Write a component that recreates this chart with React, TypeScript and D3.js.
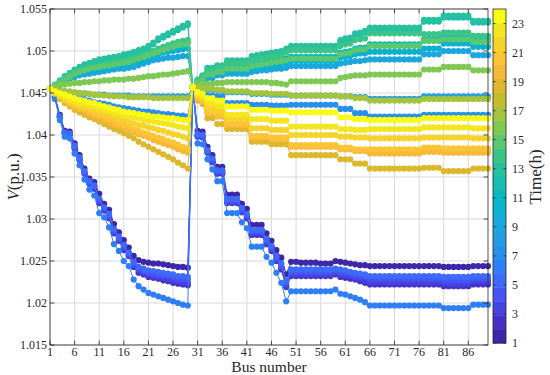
import React from "react";
import * as d3 from "d3";

// bus numbers 1..90 (feeder A: 1-29, feeder B: 30-90)
const buses = d3.range(1, 91);
const xTicks = [1, 6, 11, 16, 21, 26, 31, 36, 41, 46, 51, 56, 61, 66, 71, 76, 81, 86];
const yTicks = [1.015, 1.02, 1.025, 1.03, 1.035, 1.04, 1.045, 1.05, 1.055];
const hourTicks = [1, 3, 5, 7, 9, 11, 13, 15, 17, 19, 21, 23];

// parula-like colours, one per hour
const hourColors = [
  "#3e26a8", "#4531c8", "#4742e2", "#4655f3", "#3e6afc", "#2e7ff7",
  "#288fec", "#229de4", "#1ba7dc", "#0cb0d1", "#05b8c1", "#16bdb0",
  "#26c19e", "#3ac588", "#5ac86e", "#7fc854", "#a3c43c", "#c3bd2c",
  "#ddb82c", "#f6b83a", "#fec434", "#f6d328", "#f4e61e", "#f9fb14",
];

// voltages (p.u.) per hour, buses 1..90
const v01 = [
  1.0455, 1.0446, 1.0424, 1.0405, 1.0404, 1.0390, 1.0376, 1.0360, 1.0348, 1.0344,
  1.0330, 1.0318, 1.0311, 1.0294, 1.0284, 1.0275, 1.0266, 1.0256, 1.0251, 1.0249,
  1.0248, 1.0247, 1.0247, 1.0246, 1.0245, 1.0244, 1.0243, 1.0243, 1.0242,
  1.0457, 1.0405, 1.0404, 1.0386, 1.0376, 1.0362, 1.0362, 1.0329, 1.0329, 1.0329,
  1.0318, 1.0312, 1.0293, 1.0293, 1.0293, 1.0283, 1.0274, 1.0263, 1.0254, 1.0234,
  1.0249, 1.0249, 1.0248, 1.0248, 1.0248, 1.0248, 1.0247, 1.0247, 1.0247, 1.0250,
  1.0249, 1.0248, 1.0247, 1.0246, 1.0245, 1.0245, 1.0244, 1.0244, 1.0244, 1.0244,
  1.0244, 1.0244, 1.0244, 1.0244, 1.0244, 1.0244, 1.0244, 1.0244, 1.0244, 1.0244,
  1.0244, 1.0243, 1.0243, 1.0243, 1.0243, 1.0243, 1.0243, 1.0244, 1.0244, 1.0244,
  1.0244,
];
const v02 = [
  1.0455, 1.0444, 1.0421, 1.0402, 1.0400, 1.0384, 1.0370, 1.0354, 1.0342, 1.0336,
  1.0319, 1.0310, 1.0301, 1.0283, 1.0274, 1.0263, 1.0256, 1.0243, 1.0236, 1.0234,
  1.0231, 1.0230, 1.0229, 1.0227, 1.0226, 1.0224, 1.0223, 1.0222, 1.0221,
  1.0457, 1.0398, 1.0397, 1.0379, 1.0368, 1.0354, 1.0354, 1.0319, 1.0319, 1.0319,
  1.0308, 1.0301, 1.0281, 1.0281, 1.0281, 1.0270, 1.0262, 1.0250, 1.0240, 1.0219,
  1.0232, 1.0232, 1.0232, 1.0232, 1.0232, 1.0232, 1.0232, 1.0232, 1.0232, 1.0234,
  1.0231, 1.0230, 1.0229, 1.0228, 1.0226, 1.0224, 1.0222, 1.0222, 1.0222, 1.0222,
  1.0222, 1.0222, 1.0222, 1.0222, 1.0222, 1.0222, 1.0222, 1.0222, 1.0222, 1.0222,
  1.0222, 1.0220, 1.0220, 1.0220, 1.0220, 1.0220, 1.0220, 1.0222, 1.0222, 1.0222,
  1.0222,
];
const v03 = [
  1.0455, 1.0445, 1.0422, 1.0402, 1.0401, 1.0385, 1.0371, 1.0355, 1.0343, 1.0338,
  1.0321, 1.0312, 1.0303, 1.0284, 1.0275, 1.0265, 1.0257, 1.0245, 1.0239, 1.0236,
  1.0234, 1.0232, 1.0231, 1.0230, 1.0229, 1.0227, 1.0226, 1.0225, 1.0224,
  1.0457, 1.0399, 1.0398, 1.0380, 1.0369, 1.0355, 1.0355, 1.0320, 1.0320, 1.0320,
  1.0309, 1.0303, 1.0283, 1.0283, 1.0283, 1.0272, 1.0264, 1.0252, 1.0242, 1.0221,
  1.0234, 1.0234, 1.0234, 1.0234, 1.0234, 1.0234, 1.0234, 1.0234, 1.0234, 1.0236,
  1.0234, 1.0233, 1.0232, 1.0230, 1.0229, 1.0227, 1.0225, 1.0225, 1.0225, 1.0225,
  1.0225, 1.0225, 1.0225, 1.0225, 1.0225, 1.0225, 1.0225, 1.0225, 1.0225, 1.0225,
  1.0225, 1.0223, 1.0223, 1.0223, 1.0223, 1.0223, 1.0223, 1.0226, 1.0226, 1.0226,
  1.0226,
];
const v04 = [
  1.0455, 1.0445, 1.0422, 1.0403, 1.0401, 1.0386, 1.0372, 1.0356, 1.0344, 1.0339,
  1.0323, 1.0313, 1.0304, 1.0286, 1.0277, 1.0267, 1.0259, 1.0247, 1.0241, 1.0238,
  1.0236, 1.0235, 1.0234, 1.0233, 1.0232, 1.0231, 1.0229, 1.0229, 1.0228,
  1.0457, 1.0400, 1.0399, 1.0381, 1.0371, 1.0357, 1.0357, 1.0322, 1.0322, 1.0322,
  1.0311, 1.0305, 1.0285, 1.0285, 1.0285, 1.0274, 1.0266, 1.0254, 1.0244, 1.0224,
  1.0237, 1.0237, 1.0237, 1.0237, 1.0237, 1.0237, 1.0237, 1.0237, 1.0237, 1.0239,
  1.0237, 1.0236, 1.0235, 1.0233, 1.0232, 1.0231, 1.0229, 1.0229, 1.0229, 1.0229,
  1.0229, 1.0229, 1.0229, 1.0229, 1.0229, 1.0229, 1.0229, 1.0229, 1.0229, 1.0229,
  1.0229, 1.0227, 1.0227, 1.0227, 1.0227, 1.0227, 1.0227, 1.0229, 1.0229, 1.0229,
  1.0229,
];
const v05 = [
  1.0455, 1.0445, 1.0422, 1.0403, 1.0402, 1.0387, 1.0373, 1.0357, 1.0345, 1.0340,
  1.0324, 1.0314, 1.0306, 1.0288, 1.0279, 1.0269, 1.0260, 1.0249, 1.0243, 1.0241,
  1.0239, 1.0238, 1.0237, 1.0236, 1.0235, 1.0234, 1.0232, 1.0232, 1.0231,
  1.0457, 1.0401, 1.0400, 1.0382, 1.0372, 1.0358, 1.0358, 1.0324, 1.0324, 1.0324,
  1.0313, 1.0306, 1.0287, 1.0287, 1.0287, 1.0276, 1.0268, 1.0256, 1.0247, 1.0226,
  1.0240, 1.0240, 1.0240, 1.0240, 1.0240, 1.0240, 1.0240, 1.0240, 1.0240, 1.0241,
  1.0240, 1.0239, 1.0237, 1.0236, 1.0235, 1.0234, 1.0232, 1.0232, 1.0232, 1.0232,
  1.0232, 1.0232, 1.0232, 1.0232, 1.0232, 1.0232, 1.0232, 1.0232, 1.0232, 1.0232,
  1.0232, 1.0231, 1.0231, 1.0231, 1.0231, 1.0231, 1.0231, 1.0232, 1.0232, 1.0232,
  1.0232,
];
const v06 = [
  1.0455, 1.0443, 1.0418, 1.0398, 1.0396, 1.0378, 1.0364, 1.0347, 1.0335, 1.0328,
  1.0307, 1.0302, 1.0290, 1.0270, 1.0262, 1.0250, 1.0244, 1.0228, 1.0220, 1.0216,
  1.0212, 1.0210, 1.0208, 1.0206, 1.0204, 1.0202, 1.0200, 1.0198, 1.0197,
  1.0457, 1.0390, 1.0389, 1.0371, 1.0359, 1.0345, 1.0345, 1.0307, 1.0307, 1.0307,
  1.0296, 1.0289, 1.0267, 1.0267, 1.0267, 1.0255, 1.0248, 1.0236, 1.0224, 1.0202,
  1.0214, 1.0214, 1.0214, 1.0214, 1.0214, 1.0214, 1.0214, 1.0214, 1.0214, 1.0216,
  1.0211, 1.0210, 1.0208, 1.0206, 1.0204, 1.0201, 1.0197, 1.0197, 1.0197, 1.0197,
  1.0197, 1.0197, 1.0197, 1.0197, 1.0197, 1.0197, 1.0197, 1.0197, 1.0197, 1.0197,
  1.0197, 1.0194, 1.0194, 1.0194, 1.0194, 1.0194, 1.0194, 1.0198, 1.0198, 1.0198,
  1.0198,
];
const v07 = [
  1.0455, 1.0453, 1.0451, 1.0449, 1.0447, 1.0446, 1.0444, 1.0442, 1.0441, 1.0439,
  1.0438, 1.0437, 1.0436, 1.0434, 1.0433, 1.0432, 1.0431, 1.0430, 1.0429, 1.0428,
  1.0428, 1.0427, 1.0426, 1.0425, 1.0425, 1.0424, 1.0423, 1.0423, 1.0422,
  1.0457, 1.0452, 1.0450, 1.0447, 1.0447, 1.0446, 1.0446, 1.0438, 1.0438, 1.0438,
  1.0438, 1.0438, 1.0436, 1.0436, 1.0436, 1.0436, 1.0435, 1.0435, 1.0435, 1.0435,
  1.0436, 1.0436, 1.0436, 1.0436, 1.0436, 1.0436, 1.0436, 1.0436, 1.0436, 1.0436,
  1.0431, 1.0431, 1.0431, 1.0426, 1.0426, 1.0426, 1.0422, 1.0422, 1.0422, 1.0422,
  1.0422, 1.0422, 1.0422, 1.0422, 1.0422, 1.0422, 1.0422, 1.0424, 1.0424, 1.0424,
  1.0424, 1.0424, 1.0424, 1.0424, 1.0424, 1.0424, 1.0424, 1.0424, 1.0424, 1.0424,
  1.0424,
];
const v08 = [
  1.0455, 1.0454, 1.0453, 1.0452, 1.0451, 1.0450, 1.0450, 1.0449, 1.0449, 1.0448,
  1.0448, 1.0448, 1.0447, 1.0447, 1.0447, 1.0447, 1.0447, 1.0446, 1.0446, 1.0446,
  1.0446, 1.0446, 1.0446, 1.0446, 1.0446, 1.0446, 1.0446, 1.0446, 1.0446,
  1.0457, 1.0456, 1.0455, 1.0454, 1.0454, 1.0453, 1.0453, 1.0451, 1.0451, 1.0451,
  1.0451, 1.0451, 1.0449, 1.0449, 1.0449, 1.0449, 1.0448, 1.0448, 1.0448, 1.0448,
  1.0447, 1.0447, 1.0447, 1.0447, 1.0447, 1.0447, 1.0447, 1.0447, 1.0447, 1.0447,
  1.0446, 1.0446, 1.0446, 1.0445, 1.0445, 1.0445, 1.0443, 1.0443, 1.0443, 1.0443,
  1.0443, 1.0443, 1.0443, 1.0443, 1.0443, 1.0443, 1.0443, 1.0446, 1.0446, 1.0446,
  1.0446, 1.0446, 1.0446, 1.0446, 1.0446, 1.0446, 1.0446, 1.0446, 1.0446, 1.0446,
  1.0446,
];
const v09 = [
  1.0455, 1.0458, 1.0461, 1.0464, 1.0467, 1.0469, 1.0471, 1.0472, 1.0473, 1.0474,
  1.0475, 1.0476, 1.0477, 1.0478, 1.0479, 1.0479, 1.0480, 1.0481, 1.0483, 1.0485,
  1.0487, 1.0489, 1.0490, 1.0491, 1.0492, 1.0492, 1.0493, 1.0494, 1.0494,
  1.0457, 1.0461, 1.0464, 1.0468, 1.0468, 1.0471, 1.0471, 1.0473, 1.0473, 1.0473,
  1.0473, 1.0473, 1.0475, 1.0476, 1.0477, 1.0477, 1.0478, 1.0479, 1.0479, 1.0480,
  1.0482, 1.0482, 1.0482, 1.0482, 1.0482, 1.0482, 1.0482, 1.0482, 1.0482, 1.0482,
  1.0485, 1.0486, 1.0487, 1.0488, 1.0488, 1.0489, 1.0490, 1.0490, 1.0490, 1.0490,
  1.0490, 1.0490, 1.0490, 1.0490, 1.0490, 1.0490, 1.0490, 1.0496, 1.0496, 1.0496,
  1.0496, 1.0500, 1.0500, 1.0500, 1.0500, 1.0500, 1.0500, 1.0495, 1.0495, 1.0495,
  1.0495,
];
const v10 = [
  1.0455, 1.0458, 1.0462, 1.0465, 1.0468, 1.0471, 1.0473, 1.0475, 1.0477, 1.0478,
  1.0479, 1.0480, 1.0481, 1.0482, 1.0483, 1.0483, 1.0484, 1.0486, 1.0487, 1.0489,
  1.0491, 1.0493, 1.0496, 1.0498, 1.0499, 1.0500, 1.0501, 1.0502, 1.0503,
  1.0457, 1.0462, 1.0465, 1.0471, 1.0471, 1.0474, 1.0474, 1.0477, 1.0477, 1.0477,
  1.0477, 1.0477, 1.0479, 1.0480, 1.0481, 1.0482, 1.0483, 1.0484, 1.0485, 1.0486,
  1.0488, 1.0488, 1.0488, 1.0488, 1.0488, 1.0488, 1.0488, 1.0488, 1.0488, 1.0488,
  1.0492, 1.0493, 1.0494, 1.0496, 1.0497, 1.0497, 1.0499, 1.0499, 1.0499, 1.0499,
  1.0499, 1.0499, 1.0499, 1.0499, 1.0499, 1.0499, 1.0499, 1.0503, 1.0503, 1.0503,
  1.0503, 1.0509, 1.0509, 1.0509, 1.0509, 1.0509, 1.0509, 1.0505, 1.0505, 1.0505,
  1.0505,
];
const v11 = [
  1.0455, 1.0459, 1.0463, 1.0467, 1.0470, 1.0474, 1.0476, 1.0478, 1.0480, 1.0481,
  1.0482, 1.0483, 1.0484, 1.0486, 1.0487, 1.0488, 1.0489, 1.0491, 1.0493, 1.0495,
  1.0497, 1.0499, 1.0501, 1.0503, 1.0505, 1.0507, 1.0509, 1.0510, 1.0511,
  1.0457, 1.0463, 1.0467, 1.0474, 1.0474, 1.0477, 1.0477, 1.0481, 1.0481, 1.0481,
  1.0481, 1.0481, 1.0484, 1.0485, 1.0486, 1.0487, 1.0488, 1.0489, 1.0490, 1.0491,
  1.0493, 1.0493, 1.0493, 1.0493, 1.0493, 1.0493, 1.0493, 1.0493, 1.0493, 1.0493,
  1.0498, 1.0499, 1.0500, 1.0503, 1.0504, 1.0504, 1.0508, 1.0508, 1.0508, 1.0508,
  1.0508, 1.0508, 1.0508, 1.0508, 1.0508, 1.0508, 1.0508, 1.0514, 1.0514, 1.0514,
  1.0514, 1.0516, 1.0516, 1.0516, 1.0516, 1.0516, 1.0516, 1.0513, 1.0513, 1.0513,
  1.0513,
];
const v12 = [
  1.0455, 1.0459, 1.0464, 1.0468, 1.0472, 1.0476, 1.0479, 1.0482, 1.0484, 1.0486,
  1.0488, 1.0489, 1.0490, 1.0491, 1.0492, 1.0494, 1.0495, 1.0497, 1.0499, 1.0501,
  1.0504, 1.0508, 1.0513, 1.0516, 1.0519, 1.0522, 1.0525, 1.0528, 1.0531,
  1.0457, 1.0465, 1.0470, 1.0479, 1.0479, 1.0482, 1.0482, 1.0487, 1.0487, 1.0487,
  1.0487, 1.0487, 1.0492, 1.0493, 1.0494, 1.0495, 1.0496, 1.0497, 1.0498, 1.0501,
  1.0504, 1.0504, 1.0504, 1.0504, 1.0504, 1.0504, 1.0504, 1.0504, 1.0504, 1.0504,
  1.0511, 1.0513, 1.0514, 1.0519, 1.0520, 1.0522, 1.0526, 1.0526, 1.0526, 1.0526,
  1.0526, 1.0526, 1.0526, 1.0526, 1.0526, 1.0526, 1.0526, 1.0535, 1.0535, 1.0535,
  1.0535, 1.0540, 1.0540, 1.0540, 1.0540, 1.0540, 1.0540, 1.0534, 1.0534, 1.0534,
  1.0534,
];
const v13 = [
  1.0455, 1.0460, 1.0465, 1.0470, 1.0474, 1.0478, 1.0481, 1.0484, 1.0486, 1.0488,
  1.0490, 1.0491, 1.0492, 1.0493, 1.0494, 1.0496, 1.0497, 1.0499, 1.0501, 1.0503,
  1.0506, 1.0510, 1.0515, 1.0518, 1.0521, 1.0524, 1.0527, 1.0530, 1.0533,
  1.0457, 1.0466, 1.0471, 1.0480, 1.0480, 1.0483, 1.0483, 1.0489, 1.0489, 1.0489,
  1.0489, 1.0489, 1.0494, 1.0495, 1.0496, 1.0497, 1.0498, 1.0499, 1.0500, 1.0503,
  1.0506, 1.0506, 1.0506, 1.0506, 1.0506, 1.0506, 1.0506, 1.0506, 1.0506, 1.0506,
  1.0513, 1.0515, 1.0516, 1.0521, 1.0522, 1.0524, 1.0528, 1.0528, 1.0528, 1.0528,
  1.0528, 1.0528, 1.0528, 1.0528, 1.0528, 1.0528, 1.0528, 1.0537, 1.0537, 1.0537,
  1.0537, 1.0542, 1.0542, 1.0542, 1.0542, 1.0542, 1.0542, 1.0536, 1.0536, 1.0536,
  1.0536,
];
const v14 = [
  1.0455, 1.0459, 1.0463, 1.0467, 1.0471, 1.0475, 1.0477, 1.0479, 1.0481, 1.0482,
  1.0483, 1.0484, 1.0485, 1.0487, 1.0488, 1.0489, 1.0490, 1.0492, 1.0494, 1.0496,
  1.0498, 1.0500, 1.0503, 1.0505, 1.0507, 1.0509, 1.0511, 1.0512, 1.0513,
  1.0457, 1.0465, 1.0469, 1.0477, 1.0477, 1.0480, 1.0480, 1.0486, 1.0486, 1.0486,
  1.0486, 1.0486, 1.0489, 1.0490, 1.0491, 1.0492, 1.0493, 1.0494, 1.0495, 1.0498,
  1.0501, 1.0501, 1.0501, 1.0501, 1.0501, 1.0501, 1.0501, 1.0501, 1.0501, 1.0501,
  1.0506, 1.0508, 1.0509, 1.0513, 1.0514, 1.0515, 1.0521, 1.0521, 1.0521, 1.0521,
  1.0521, 1.0521, 1.0521, 1.0521, 1.0521, 1.0521, 1.0521, 1.0520, 1.0520, 1.0520,
  1.0520, 1.0522, 1.0522, 1.0522, 1.0522, 1.0522, 1.0522, 1.0518, 1.0518, 1.0518,
  1.0518,
];
const v15 = [
  1.0455, 1.0459, 1.0462, 1.0466, 1.0469, 1.0473, 1.0475, 1.0477, 1.0479, 1.0480,
  1.0481, 1.0482, 1.0483, 1.0484, 1.0485, 1.0486, 1.0487, 1.0489, 1.0491, 1.0493,
  1.0495, 1.0497, 1.0499, 1.0501, 1.0503, 1.0505, 1.0507, 1.0508, 1.0509,
  1.0457, 1.0462, 1.0466, 1.0472, 1.0472, 1.0475, 1.0475, 1.0479, 1.0479, 1.0479,
  1.0479, 1.0479, 1.0482, 1.0483, 1.0484, 1.0485, 1.0486, 1.0487, 1.0488, 1.0489,
  1.0491, 1.0491, 1.0491, 1.0491, 1.0491, 1.0491, 1.0491, 1.0491, 1.0491, 1.0491,
  1.0496, 1.0497, 1.0498, 1.0501, 1.0502, 1.0502, 1.0506, 1.0506, 1.0506, 1.0506,
  1.0506, 1.0506, 1.0506, 1.0506, 1.0506, 1.0506, 1.0506, 1.0512, 1.0512, 1.0512,
  1.0512, 1.0514, 1.0514, 1.0514, 1.0514, 1.0514, 1.0514, 1.0511, 1.0511, 1.0511,
  1.0511,
];
const v16 = [
  1.0455, 1.0457, 1.0459, 1.0460, 1.0461, 1.0462, 1.0462, 1.0463, 1.0463, 1.0464,
  1.0464, 1.0465, 1.0465, 1.0466, 1.0466, 1.0466, 1.0467, 1.0467, 1.0468, 1.0469,
  1.0470, 1.0470, 1.0471, 1.0472, 1.0472, 1.0473, 1.0474, 1.0475, 1.0476,
  1.0457, 1.0459, 1.0460, 1.0461, 1.0461, 1.0462, 1.0462, 1.0463, 1.0463, 1.0463,
  1.0463, 1.0463, 1.0463, 1.0463, 1.0463, 1.0463, 1.0462, 1.0462, 1.0461, 1.0460,
  1.0464, 1.0464, 1.0464, 1.0464, 1.0464, 1.0464, 1.0464, 1.0464, 1.0464, 1.0464,
  1.0468, 1.0469, 1.0470, 1.0471, 1.0471, 1.0471, 1.0472, 1.0472, 1.0472, 1.0472,
  1.0472, 1.0472, 1.0472, 1.0472, 1.0472, 1.0472, 1.0472, 1.0478, 1.0478, 1.0478,
  1.0478, 1.0481, 1.0481, 1.0481, 1.0481, 1.0481, 1.0481, 1.0477, 1.0477, 1.0477,
  1.0477,
];
const v17 = [
  1.0455, 1.0454, 1.0453, 1.0452, 1.0452, 1.0451, 1.0450, 1.0450, 1.0449, 1.0448,
  1.0448, 1.0447, 1.0447, 1.0446, 1.0446, 1.0446, 1.0445, 1.0445, 1.0445, 1.0445,
  1.0445, 1.0444, 1.0444, 1.0444, 1.0444, 1.0444, 1.0444, 1.0444, 1.0444,
  1.0457, 1.0456, 1.0455, 1.0455, 1.0455, 1.0454, 1.0454, 1.0452, 1.0452, 1.0452,
  1.0452, 1.0452, 1.0450, 1.0450, 1.0450, 1.0450, 1.0449, 1.0449, 1.0449, 1.0449,
  1.0447, 1.0447, 1.0447, 1.0447, 1.0447, 1.0447, 1.0447, 1.0447, 1.0447, 1.0447,
  1.0446, 1.0446, 1.0446, 1.0444, 1.0444, 1.0444, 1.0441, 1.0441, 1.0441, 1.0441,
  1.0441, 1.0441, 1.0441, 1.0441, 1.0441, 1.0441, 1.0441, 1.0443, 1.0443, 1.0443,
  1.0443, 1.0443, 1.0443, 1.0443, 1.0443, 1.0443, 1.0443, 1.0443, 1.0443, 1.0443,
  1.0443,
];
const v18 = [
  1.0455, 1.0450, 1.0446, 1.0441, 1.0437, 1.0434, 1.0432, 1.0429, 1.0427, 1.0424,
  1.0422, 1.0420, 1.0417, 1.0415, 1.0412, 1.0410, 1.0408, 1.0405, 1.0403, 1.0401,
  1.0399, 1.0396, 1.0394, 1.0392, 1.0390, 1.0388, 1.0386, 1.0383, 1.0381,
  1.0457, 1.0444, 1.0441, 1.0427, 1.0427, 1.0423, 1.0423, 1.0413, 1.0413, 1.0413,
  1.0413, 1.0413, 1.0398, 1.0398, 1.0398, 1.0398, 1.0396, 1.0396, 1.0396, 1.0396,
  1.0387, 1.0387, 1.0387, 1.0387, 1.0387, 1.0387, 1.0387, 1.0387, 1.0387, 1.0387,
  1.0384, 1.0384, 1.0384, 1.0382, 1.0382, 1.0382, 1.0380, 1.0380, 1.0380, 1.0380,
  1.0380, 1.0380, 1.0380, 1.0380, 1.0380, 1.0380, 1.0380, 1.0382, 1.0382, 1.0382,
  1.0382, 1.0381, 1.0381, 1.0381, 1.0381, 1.0381, 1.0381, 1.0381, 1.0381, 1.0381,
  1.0381,
];
const v19 = [
  1.0455, 1.0449, 1.0443, 1.0438, 1.0434, 1.0430, 1.0427, 1.0424, 1.0421, 1.0419,
  1.0416, 1.0413, 1.0410, 1.0407, 1.0405, 1.0402, 1.0399, 1.0396, 1.0392, 1.0389,
  1.0386, 1.0383, 1.0380, 1.0377, 1.0374, 1.0371, 1.0367, 1.0364, 1.0360,
  1.0457, 1.0441, 1.0437, 1.0420, 1.0420, 1.0413, 1.0413, 1.0407, 1.0407, 1.0407,
  1.0407, 1.0407, 1.0392, 1.0392, 1.0392, 1.0392, 1.0389, 1.0389, 1.0389, 1.0389,
  1.0376, 1.0376, 1.0376, 1.0376, 1.0376, 1.0376, 1.0376, 1.0376, 1.0376, 1.0376,
  1.0371, 1.0371, 1.0371, 1.0366, 1.0366, 1.0366, 1.0360, 1.0360, 1.0360, 1.0360,
  1.0360, 1.0360, 1.0360, 1.0360, 1.0360, 1.0360, 1.0360, 1.0361, 1.0361, 1.0361,
  1.0361, 1.0357, 1.0357, 1.0357, 1.0357, 1.0357, 1.0357, 1.0360, 1.0360, 1.0360,
  1.0360,
];
const v20 = [
  1.0455, 1.0450, 1.0445, 1.0441, 1.0437, 1.0433, 1.0431, 1.0428, 1.0426, 1.0423,
  1.0421, 1.0418, 1.0416, 1.0413, 1.0411, 1.0408, 1.0406, 1.0403, 1.0401, 1.0399,
  1.0397, 1.0394, 1.0392, 1.0390, 1.0388, 1.0386, 1.0383, 1.0381, 1.0379,
  1.0457, 1.0443, 1.0440, 1.0426, 1.0426, 1.0422, 1.0422, 1.0412, 1.0412, 1.0412,
  1.0412, 1.0412, 1.0397, 1.0397, 1.0397, 1.0397, 1.0395, 1.0395, 1.0395, 1.0395,
  1.0386, 1.0386, 1.0386, 1.0386, 1.0386, 1.0386, 1.0386, 1.0386, 1.0386, 1.0386,
  1.0383, 1.0383, 1.0383, 1.0381, 1.0381, 1.0381, 1.0378, 1.0378, 1.0378, 1.0378,
  1.0378, 1.0378, 1.0378, 1.0378, 1.0378, 1.0378, 1.0378, 1.0380, 1.0380, 1.0380,
  1.0380, 1.0379, 1.0379, 1.0379, 1.0379, 1.0379, 1.0379, 1.0379, 1.0379, 1.0379,
  1.0379,
];
const v21 = [
  1.0455, 1.0450, 1.0446, 1.0442, 1.0438, 1.0435, 1.0433, 1.0431, 1.0428, 1.0426,
  1.0424, 1.0422, 1.0419, 1.0417, 1.0414, 1.0412, 1.0410, 1.0407, 1.0405, 1.0403,
  1.0401, 1.0399, 1.0397, 1.0395, 1.0393, 1.0391, 1.0389, 1.0386, 1.0384,
  1.0457, 1.0445, 1.0442, 1.0428, 1.0428, 1.0424, 1.0424, 1.0414, 1.0414, 1.0414,
  1.0414, 1.0414, 1.0399, 1.0399, 1.0399, 1.0399, 1.0397, 1.0397, 1.0397, 1.0397,
  1.0388, 1.0388, 1.0388, 1.0388, 1.0388, 1.0388, 1.0388, 1.0388, 1.0388, 1.0388,
  1.0385, 1.0385, 1.0385, 1.0383, 1.0383, 1.0383, 1.0383, 1.0383, 1.0383, 1.0383,
  1.0383, 1.0383, 1.0383, 1.0383, 1.0383, 1.0383, 1.0383, 1.0385, 1.0385, 1.0385,
  1.0385, 1.0384, 1.0384, 1.0384, 1.0384, 1.0384, 1.0384, 1.0384, 1.0384, 1.0384,
  1.0384,
];
const v22 = [
  1.0455, 1.0451, 1.0447, 1.0443, 1.0440, 1.0437, 1.0435, 1.0433, 1.0431, 1.0430,
  1.0428, 1.0426, 1.0424, 1.0422, 1.0420, 1.0418, 1.0416, 1.0414, 1.0412, 1.0411,
  1.0409, 1.0408, 1.0406, 1.0405, 1.0403, 1.0401, 1.0400, 1.0398, 1.0396,
  1.0457, 1.0447, 1.0444, 1.0432, 1.0432, 1.0429, 1.0429, 1.0420, 1.0420, 1.0420,
  1.0420, 1.0420, 1.0408, 1.0408, 1.0408, 1.0408, 1.0406, 1.0406, 1.0406, 1.0406,
  1.0400, 1.0400, 1.0400, 1.0400, 1.0400, 1.0400, 1.0400, 1.0400, 1.0400, 1.0400,
  1.0398, 1.0398, 1.0398, 1.0397, 1.0397, 1.0397, 1.0396, 1.0396, 1.0396, 1.0396,
  1.0396, 1.0396, 1.0396, 1.0396, 1.0396, 1.0396, 1.0396, 1.0397, 1.0397, 1.0397,
  1.0397, 1.0397, 1.0397, 1.0397, 1.0397, 1.0397, 1.0397, 1.0396, 1.0396, 1.0396,
  1.0396,
];
const v23 = [
  1.0455, 1.0451, 1.0448, 1.0445, 1.0442, 1.0440, 1.0438, 1.0437, 1.0435, 1.0434,
  1.0432, 1.0430, 1.0429, 1.0427, 1.0426, 1.0424, 1.0423, 1.0421, 1.0420, 1.0418,
  1.0417, 1.0416, 1.0415, 1.0414, 1.0413, 1.0412, 1.0410, 1.0409, 1.0408,
  1.0457, 1.0449, 1.0446, 1.0438, 1.0438, 1.0435, 1.0435, 1.0424, 1.0424, 1.0424,
  1.0424, 1.0424, 1.0419, 1.0419, 1.0419, 1.0419, 1.0417, 1.0417, 1.0417, 1.0417,
  1.0410, 1.0410, 1.0410, 1.0410, 1.0410, 1.0410, 1.0410, 1.0410, 1.0410, 1.0410,
  1.0407, 1.0407, 1.0407, 1.0406, 1.0406, 1.0406, 1.0407, 1.0407, 1.0407, 1.0407,
  1.0407, 1.0407, 1.0407, 1.0407, 1.0407, 1.0407, 1.0407, 1.0409, 1.0409, 1.0409,
  1.0409, 1.0409, 1.0409, 1.0409, 1.0409, 1.0409, 1.0409, 1.0408, 1.0408, 1.0408,
  1.0408,
];
const v24 = [
  1.0455, 1.0452, 1.0450, 1.0448, 1.0446, 1.0444, 1.0442, 1.0441, 1.0439, 1.0438,
  1.0436, 1.0434, 1.0433, 1.0431, 1.0430, 1.0428, 1.0427, 1.0426, 1.0425, 1.0424,
  1.0423, 1.0422, 1.0422, 1.0421, 1.0420, 1.0420, 1.0419, 1.0418, 1.0418,
  1.0457, 1.0451, 1.0449, 1.0444, 1.0444, 1.0441, 1.0441, 1.0434, 1.0434, 1.0434,
  1.0434, 1.0434, 1.0430, 1.0430, 1.0430, 1.0430, 1.0429, 1.0429, 1.0429, 1.0429,
  1.0427, 1.0427, 1.0427, 1.0427, 1.0427, 1.0427, 1.0427, 1.0427, 1.0427, 1.0427,
  1.0421, 1.0421, 1.0421, 1.0419, 1.0419, 1.0419, 1.0418, 1.0418, 1.0418, 1.0418,
  1.0418, 1.0418, 1.0418, 1.0418, 1.0418, 1.0418, 1.0418, 1.0420, 1.0420, 1.0420,
  1.0420, 1.0420, 1.0420, 1.0420, 1.0420, 1.0420, 1.0420, 1.0420, 1.0420, 1.0420,
  1.0420,
];

const voltages = [
  v01, v02, v03, v04, v05, v06, v07, v08, v09, v10, v11, v12,
  v13, v14, v15, v16, v17, v18, v19, v20, v21, v22, v23, v24,
];

const FONT = "'Liberation Serif', 'Times New Roman', serif";

export default function App() {
  const left = 50, right = 488, top = 9, bottom = 345;
  const x = d3.scaleLinear().domain([1, 90]).range([left, right]);
  const y = d3.scaleLinear().domain([1.015, 1.055]).range([bottom, top]);

  // colorbar
  const cbX = 493, cbW = 13;
  const cb = d3.scaleLinear().domain([1, 24]).range([bottom - 2, top]);
  const bandStep = 23 / 24;

  const line = d3.line<number>()
    .x((_, i) => x(buses[i]))
    .y((d) => y(d));

  const tickLen = 4.4;

  return (
    <svg
      width={550}
      height={375}
      style={{ position: "absolute", left: 0, top: 0, background: "#fff" }}
      fontFamily={FONT}
    >
      <rect x={0} y={0} width={550} height={375} fill="#fff" />

      {/* grid */}
      <g stroke="#d9d9d9" strokeWidth={1}>
        {xTicks.map((t) => (
          <line key={"gx" + t} x1={x(t)} x2={x(t)} y1={top} y2={bottom} />
        ))}
        {yTicks.map((t) => (
          <line key={"gy" + t} x1={left} x2={right} y1={y(t)} y2={y(t)} />
        ))}
      </g>

      {/* series */}
      {voltages.map((vals, h) => (
        <g key={"h" + h}>
          <path d={line(vals) || ""} fill="none" stroke={hourColors[h]} strokeWidth={1} />
          {vals.map((v, i) => (
            <circle key={i} cx={x(buses[i])} cy={y(v)} r={3.1} fill={hourColors[h]} />
          ))}
        </g>
      ))}

      {/* axes box and ticks */}
      <rect x={left} y={top} width={right - left} height={bottom - top}
        fill="none" stroke="#262626" strokeWidth={0.8} />
      <g stroke="#262626" strokeWidth={0.8}>
        {xTicks.map((t) => (
          <g key={"tx" + t}>
            <line x1={x(t)} x2={x(t)} y1={bottom} y2={bottom - tickLen} />
            <line x1={x(t)} x2={x(t)} y1={top} y2={top + tickLen} />
          </g>
        ))}
        {yTicks.map((t) => (
          <g key={"ty" + t}>
            <line x1={left} x2={left + tickLen} y1={y(t)} y2={y(t)} />
            <line x1={right} x2={right - tickLen} y1={y(t)} y2={y(t)} />
          </g>
        ))}
      </g>

      {/* tick labels */}
      <g fontSize={12} fill="#262626">
        {xTicks.map((t) => (
          <text key={"lx" + t} x={x(t)} y={bottom + 11} textAnchor="middle">{t}</text>
        ))}
        {yTicks.map((t) => (
          <text key={"ly" + t} x={left - 3} y={y(t) + 4} textAnchor="end">{String(t)}</text>
        ))}
      </g>

      {/* axis titles */}
      <text x={(left + right) / 2} y={372} textAnchor="middle" fontSize={15.5} fill="#262626">
        Bus number
      </text>
      <text transform={`translate(19,${(top + bottom) / 2}) rotate(-90)`} textAnchor="middle"
        fontSize={17} fill="#262626">
        <tspan fontStyle="italic">V</tspan>(p.u.)
      </text>

      {/* colorbar */}
      {hourColors.map((c, k) => {
        const y0 = cb(1 + k * bandStep);
        const y1 = cb(1 + (k + 1) * bandStep);
        return <rect key={"cb" + k} x={cbX} y={y1} width={cbW} height={y0 - y1 + 0.5} fill={c} />;
      })}
      <rect x={cbX} y={top} width={cbW} height={bottom - 2 - top} fill="none"
        stroke="#262626" strokeWidth={0.8} />
      <g stroke="#262626" strokeWidth={0.8}>
        {hourTicks.map((t) => (
          <g key={"ct" + t}>
            <line x1={cbX} x2={cbX + 2.5} y1={cb(t)} y2={cb(t)} />
            <line x1={cbX + cbW} x2={cbX + cbW - 2.5} y1={cb(t)} y2={cb(t)} />
          </g>
        ))}
      </g>
      <g fontSize={12} fill="#262626">
        {hourTicks.map((t) => (
          <text key={"cl" + t} x={cbX + cbW + 6} y={cb(t) + 4}>{t}</text>
        ))}
      </g>
      <text transform={`translate(541,${(top + bottom) / 2}) rotate(-90)`} textAnchor="middle"
        fontSize={17} fill="#262626">
        Time(h)
      </text>
    </svg>
  );
}
